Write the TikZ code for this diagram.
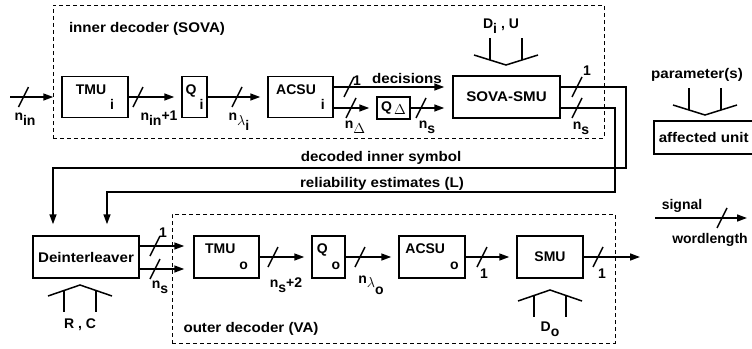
\documentclass[tikz,border=0pt]{standalone}
\usepackage{fontspec}
\setmainfont{Liberation Sans}
\newfontfamily\widefont{Liberation Sans}[FakeStretch=1.08]
\usetikzlibrary{arrows.meta}
\newcommand\dn[2][5pt]{\raisebox{-#1}{#2}}
\begin{document}
\begin{tikzpicture}[x=1pt,y=-1pt,
  font=\fontsize{14}{16}\selectfont\bfseries,
  box/.style={draw, line width=1.5pt, inner sep=0pt, minimum height=41pt},
  wbox/.style={box, font=\fontsize{14}{16}\selectfont\widefont\bfseries},
  dbox/.style={draw, dash pattern=on 4pt off 3pt, line width=0.9pt, inner sep=0pt},
  sig/.style={line width=1.5pt, -{Triangle[length=10pt,width=7pt]}, shorten >=7pt},
  lab/.style={anchor=base, inner sep=0pt},
  wlab/.style={lab, font=\fontsize{14}{16}\selectfont\widefont\bfseries},
  bus/.pic={\draw[line width=1.4pt] (-5,10) -- (5,-10);},
  pdown/.pic={\draw[line width=1.5pt] (-32,0) -- (0,10) -- (32,0);
              \draw[line width=1.5pt] (-16,5) -- (-16,-17) (16,5) -- (16,-17);},
  pup/.pic={\draw[line width=1.5pt] (-32,0) -- (0,-11) -- (32,0);
            \draw[line width=1.5pt] (-16,-5.5) -- (-16,15.5) (16,-5.5) -- (16,15.5);}
]
\useasboundingbox (0,0) rectangle (752,348);

% dashed decoder frames
\node[dbox, minimum width=551pt, minimum height=133pt] (innerframe) at (328.5,71.5) {};
\node[dbox, minimum width=443pt, minimum height=129pt] (outerframe) at (393.5,278.5) {};
\node[wlab] (innerlab) at (147,32) {inner decoder (SOVA)};
\node[wlab] (outerlab) at (251,332) {outer decoder (VA)};

% inner row
\coordinate (in) at (10,97);
\node[box, minimum width=66pt] (tmui) at (95,97) {TMU\hspace{4pt}\dn[15pt]{i}};
\node[box, minimum width=25pt] (qi) at (194.5,97) {Q\hspace{3pt}\dn[15pt]{i}};
\node[box, minimum width=65pt] (acsui) at (300.5,97) {ACSU\hspace{5pt}\dn[15pt]{i}};
\node[box, minimum width=33pt, minimum height=22pt] (qd) at (393.5,108) {Q\hspace{2pt}\dn[3pt]{$\Delta$}};
\node[wbox, minimum width=107pt, minimum height=42pt] (sova) at (506.5,97) {SOVA-SMU};

\draw[sig, shorten >=8pt] (in) -- (tmui);
\draw[sig] (tmui) -- (qi);
\draw[sig] (qi) -- (acsui);
\draw[sig, shorten >=8pt] ([yshift=10pt]acsui.east) -- ([yshift=10pt]sova.west);
\draw[sig] (acsui.east |- qd.west) -- (qd.west);
\draw[sig, shorten >=8pt] (qd.east) -- (qd.east -| sova.west);

\pic at (23.5,97) {bus};
\pic at (138,97) {bus};
\pic at (237,97) {bus};
\pic at (349,87) {bus};
\pic at (351,108) {bus};
\pic at (421,108) {bus};
\pic at (577,87) {bus};
\pic at (577,108) {bus};

\node[lab] (lnin) at (25,120) {n\dn{in}};
\node[lab] (lnin1) at (159,120) {n\dn{in}+1};
\node[lab] (lnli) at (239,120) {n\dn{$\lambda$\dn{i}}};
\node[lab] (lone1) at (357,85) {1};
\node[wlab] (ldec) at (407,83) {decisions};
\node[lab] (lnd) at (355,128.5) {n\dn{$\Delta$}};
\node[lab] (lns1) at (427,128.5) {n\dn{s}};
\node[lab] (lone2) at (587,75) {1};
\node[lab] (lns2) at (581,129) {n\dn{s}};
\node[lab] (ldiu) at (501,28) {D\dn{i} , U};
\pic at (506,55) {pdown};

% feedback
\coordinate (fb1) at (626,168);
\coordinate (fb2) at (615,192);
\node[box, wbox, minimum width=106pt, minimum height=42pt] (deint) at (86,257) {Deinterleaver};
\draw[sig, shorten >=11pt] ([yshift=10pt]sova.east) -| (fb1) -| ([xshift=-33pt]deint.north);
\draw[sig, shorten >=11pt] ([yshift=-11pt]sova.east) -| (fb2) -| ([xshift=21pt]deint.north);
\node[wlab] (ldis) at (381,161) {decoded inner symbol};
\node[wlab] (lrel) at (382,187) {reliability estimates (L)};

% outer row
\node[box, minimum width=65pt, minimum height=42pt] (tmuo) at (226.5,257) {TMU\hspace{4pt}\dn[16pt]{o}};
\node[box, minimum width=33pt, minimum height=42pt] (qo) at (328.5,257) {Q\hspace{4pt}\dn[16pt]{o}};
\node[box, minimum width=66pt, minimum height=42pt] (acsuo) at (432,257) {ACSU\hspace{5pt}\dn[16pt]{o}};
\node[box, minimum width=66pt, minimum height=42pt] (smu) at (550,257) {SMU};
\coordinate (out) at (640,257);

\draw[sig, shorten >=9pt] ([yshift=11pt]deint.east) -- ([yshift=11pt]tmuo.west);
\draw[sig, shorten >=9pt] ([yshift=-12pt]deint.east) -- ([yshift=-12pt]tmuo.west);
\draw[sig] (tmuo) -- (qo);
\draw[sig] (qo) -- (acsuo);
\draw[sig] (acsuo) -- (smu);
\draw[sig, shorten >=0pt] (smu) -- (out);

\pic at (155,246) {bus};
\pic at (155,269) {bus};
\pic at (273,257) {bus};
\pic at (360,257) {bus};
\pic at (482,257) {bus};
\pic at (598,257) {bus};

\node[lab] (lone3) at (163,237) {1};
\node[lab] (lns3) at (160,288) {n\dn{s}};
\node[lab] (lns4) at (286,287) {n\dn{s}+2};
\node[lab] (lnlo) at (371,283) {n\dn[4pt]{$\lambda$\dn[7pt]{o}}};
\node[lab] (lone4) at (484,278) {1};
\node[lab] (lone5) at (602,278) {1};
\pic at (80,296) {pup};
\node[lab] (lrc) at (80,328) {R , C};
\pic at (550,301) {pup};
\node[lab] (ldo) at (550,331) {D\dn{o}};

% legend
\node[wlab] (lpar) at (697,78) {parameter(s)};
\pic at (705,105) {pdown};
\node[wbox, anchor=west, inner xsep=5pt, minimum height=33pt] (aff) at (653,137.5) {affected unit};
\coordinate (sigA) at (655,218);
\coordinate (sigB) at (747,218);
\draw[sig, shorten >=0pt] (sigA) -- (sigB);
\pic at (722,218) {bus};
\node[lab] (lsig) at (682,209) {signal};
\node[lab] (lwl) at (710,243) {wordlength};
\end{tikzpicture}
\end{document}
